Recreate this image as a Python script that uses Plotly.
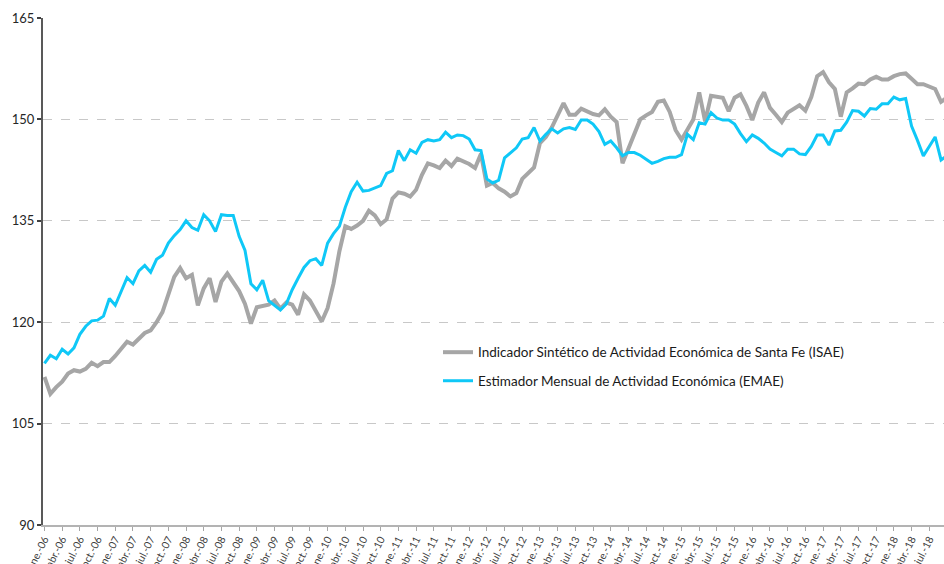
import plotly.graph_objects as go

MONTHS = ["ene.", "feb.", "mar.", "abr.", "may.", "jun.", "jul.", "ago.", "sep.", "oct.", "nov.", "dic."]
YEARS = ["06", "07", "08", "09", "10", "11", "12", "13", "14", "15", "16", "17", "18"]

ISAE = [
    111.9, 109.4, 110.4, 111.2, 112.4, 112.9, 112.7, 113.1, 114.0, 113.5, 114.1, 114.1,
    115.0, 116.0, 117.1, 116.7, 117.6, 118.4, 118.8, 120.0, 121.5, 124.0, 126.7, 128.0,
    126.5, 127.0, 122.5, 125.0, 126.5, 123.0, 126.0, 127.2, 126.0, 124.6, 122.7, 119.8,
    122.2, 122.4, 122.6, 123.2, 122.0, 122.9, 122.6, 121.1, 124.1, 123.2, 121.7, 120.1,
    122.1, 125.7, 130.5, 134.2, 133.8, 134.3, 135.0, 136.5, 135.8, 134.5, 135.2, 138.3,
    139.2, 139.0, 138.6, 139.6, 141.8, 143.5, 143.2, 142.8, 143.9, 143.1, 144.2, 143.8,
    143.4, 142.8, 144.9, 140.2, 140.6, 139.8, 139.3, 138.6, 139.1, 141.2, 142.0, 142.9,
    146.5, 147.4, 148.8, 150.5, 152.4, 150.7, 150.7, 151.6, 151.2, 150.8, 150.6, 151.5,
    150.4, 149.6, 143.5, 145.8, 148.0, 150.0, 150.6, 151.1, 152.6, 152.8, 151.1, 148.4,
    147.0, 148.5, 150.0, 154.0, 149.7, 153.5, 153.3, 153.2, 151.2, 153.2, 153.7, 152.0,
    149.9, 152.5, 154.0, 151.7, 150.7, 149.6, 151.0, 151.6, 152.1, 151.3, 153.3, 156.4,
    157.0, 155.5, 154.5, 150.4, 154.0, 154.6, 155.3, 155.2, 155.9, 156.3, 155.9, 155.9,
    156.4, 156.7, 156.8, 156.0, 155.2, 155.2, 154.8, 154.5, 152.6, 153.2,
]

EMAE = [
    113.9, 115.1, 114.6, 116.0, 115.3, 116.2, 118.2, 119.4, 120.2, 120.3, 120.9, 123.5,
    122.5, 124.5, 126.6, 125.7, 127.6, 128.4, 127.4, 129.3, 129.9, 131.7, 132.8, 133.7,
    135.0, 134.0, 133.6, 135.9, 135.0, 133.4, 135.9, 135.8, 135.8, 132.7, 130.6, 125.7,
    124.8, 126.2, 123.2, 122.5, 121.8, 122.7, 124.8, 126.5, 128.1, 129.1, 129.4, 128.4,
    131.7, 133.1, 134.2, 137.0, 139.3, 140.7, 139.4, 139.5, 139.8, 140.2, 142.0, 142.4,
    145.4, 143.9, 145.5, 145.0, 146.6, 147.0, 146.8, 147.0, 148.1, 147.3, 147.7, 147.6,
    147.1, 145.5, 145.4, 141.2, 140.6, 141.0, 144.3, 145.1, 145.8, 147.1, 147.3, 148.8,
    146.8, 147.8, 148.6, 148.0, 148.6, 148.8, 148.5, 149.9, 149.9, 149.3, 148.2, 146.3,
    146.8, 145.8, 144.6, 145.1, 145.1, 144.7, 144.1, 143.5, 143.8, 144.2, 144.4, 144.4,
    144.8, 147.8, 147.0, 149.5, 149.3, 151.0, 150.2, 149.9, 149.9, 149.3, 147.9, 146.7,
    147.7, 147.2, 146.5, 145.6, 145.1, 144.6, 145.6, 145.6, 144.9, 144.8, 146.0, 147.7,
    147.7, 146.2, 148.3, 148.4, 149.6, 151.3, 151.2, 150.5, 151.6, 151.5, 152.3, 152.3,
    153.3, 152.9, 153.1, 149.0, 146.9, 144.6, 146.0, 147.4, 144.0, 144.6,
]

SERIES_NAMES = [
    "Indicador Sintético de Actividad Económica de Santa Fe (ISAE)",
    "Estimador Mensual de Actividad Económica (EMAE)",
]
Y_TICKS = [90, 105, 120, 135, 150, 165]

categories = [f"{m}-{y}" for y in YEARS for m in MONTHS][: len(ISAE)]
tick_labels = categories[::3]

FONT = "Lato, 'Open Sans', sans-serif"

fig = go.Figure()
fig.add_trace(go.Scatter(
    x=categories, y=ISAE, mode="lines", name=SERIES_NAMES[0],
    line=dict(color="#a6a6a6", width=4), legendgroup="a",
))
fig.add_trace(go.Scatter(
    x=categories, y=EMAE, mode="lines", name=SERIES_NAMES[1],
    line=dict(color="#0fc8f7", width=3), legendgroup="b",
))

fig.update_layout(
    width=944, height=564,
    margin=dict(l=43, r=0, t=18, b=39, autoexpand=False),
    paper_bgcolor="white", plot_bgcolor="white",
    font=dict(family=FONT, color="#262626"),
    legend=dict(
        x=0.4384, y=0.371, xanchor="left", yanchor="top",
        font=dict(size=13.5, family=FONT, color="#1a1a1a"),
        bgcolor="rgba(0,0,0,0)", traceorder="grouped", tracegroupgap=8,
        itemwidth=30,
    ),
    showlegend=True,
)

fig.update_xaxes(
    type="category",
    range=[-0.25, 152.5],
    tickmode="array", tickvals=tick_labels, ticktext=tick_labels,
    tickangle=-63, automargin=False, ticklabelstandoff=-2,
    tickfont=dict(size=10.5, family=FONT, color="#404040"),
    ticks="outside", ticklen=4, tickcolor="#a6a6a6", tickwidth=1,
    showline=True, linecolor="#b3b3b3", linewidth=2,
    showgrid=False, zeroline=False,
)
fig.update_yaxes(
    range=[90, 165], automargin=False,
    tickmode="array", tickvals=Y_TICKS,
    tickfont=dict(size=13, family=FONT, color="#262626"),
    ticks="outside", ticklen=4, tickcolor="#404040", tickwidth=2,
    showline=True, linecolor="#595959", linewidth=2,
    showgrid=True, gridcolor="#c8c8c8", griddash="dash", gridwidth=1,
    zeroline=False,
)

fig.write_html(
    "out.html",
    config={"displayModeBar": False},
    post_script="document.body.style.margin='0';document.body.style.overflow='hidden';",
)
